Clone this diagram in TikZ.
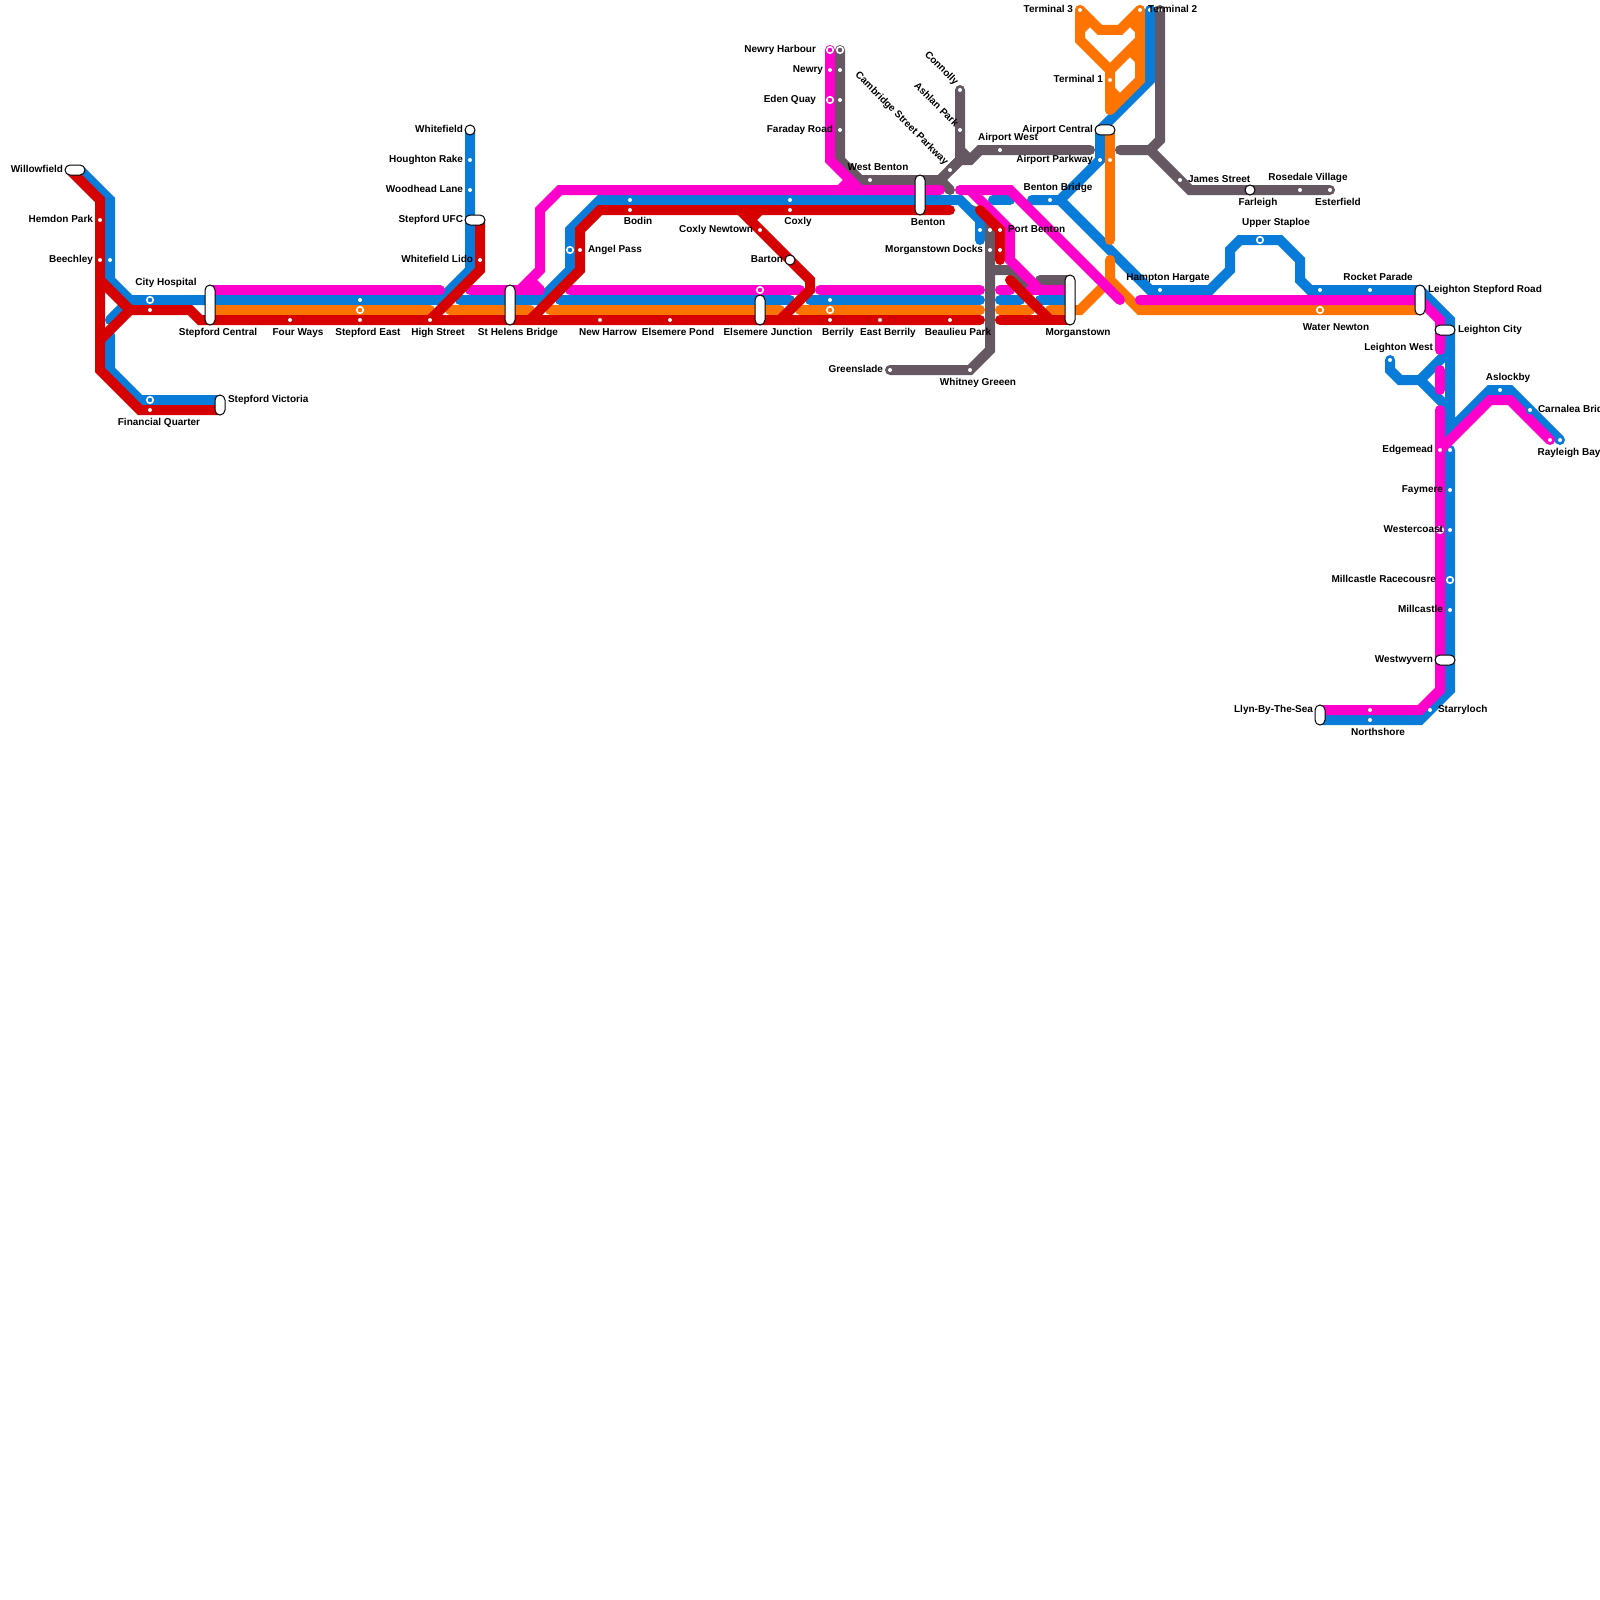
\documentclass[tikz,border=0pt]{standalone}
\usepackage{fontspec}
\setmainfont{Liberation Sans}
\definecolor{tbl}{HTML}{087CD8}
\definecolor{tmg}{HTML}{FF00CC}
\definecolor{tor}{HTML}{FF7300}
\definecolor{trd}{HTML}{D60000}
\definecolor{tgy}{HTML}{655862}
\tikzset{
  lineb/.style={line width=10pt,line cap=round,miter limit=10},
  bl/.style={lineb,draw=tbl}, mg/.style={lineb,draw=tmg}, orl/.style={lineb,draw=tor},
  rd/.style={lineb,draw=trd}, gy/.style={lineb,draw=tgy},
  dotst/.style={circle,fill=white,inner sep=0pt,minimum size=4pt},
  ringst/.style={circle,draw=white,line width=1.6pt,inner sep=0pt,minimum size=6.5pt},
  bigst/.style={circle,draw=black,fill=white,line width=1pt,inner sep=0pt,minimum size=10pt},
  halost/.style={circle,fill=tbl,inner sep=0pt,minimum size=9pt},
  pillv/.style={rectangle,rounded corners=5pt,draw=black,fill=white,line width=1pt,inner sep=0pt,outer sep=0pt,minimum width=10pt,minimum height=#1},
  pillh/.style={rectangle,rounded corners=5pt,draw=black,fill=white,line width=1pt,inner sep=0pt,outer sep=0pt,minimum height=10pt,minimum width=#1},
  lbl/.style={inner sep=0pt,outer sep=0pt,xshift=1pt,text=black,text height=7pt,text depth=0pt,font=\fontsize{10}{12}\selectfont\bfseries},
}
\begin{document}
\begin{tikzpicture}[x=1pt,y=-1pt]
\useasboundingbox (0,0) rectangle (1600,1600);
\fill[white] (0,0) rectangle (1600,1600);
% grey
\draw[gy] (840,50) -- (840,160) -- (860,180) -- (940,180) -- (960,160) -- (960,90);
\draw[gy] (940,180) -- (950,190);
\draw[gy] (960,150) -- (970,160);
\draw[gy] (950,170) -- (960,160) -- (970,160) -- (980,150) -- (1090,150);
\draw[gy] (972,210) -- (990,228) -- (990,350) -- (970,370) -- (890,370);
\draw[gy] (990,270) -- (1010,270) -- (1030,290);
\draw[gy] (1040,280) -- (1070,280);
\draw[gy] (1120,150) -- (1150,150) -- (1160,140) -- (1160,10);
\draw[gy] (1150,150) -- (1190,190) -- (1330,190);
% blue
\draw[bl] (80,170) -- (110,200) -- (110,280) -- (130,300) -- (440,300) -- (470,270) -- (470,130);
\draw[bl] (130,300) -- (110,320);
\draw[bl] (110,335) -- (110,370) -- (140,400) -- (220,400);
\draw[bl] (460,300) -- (540,300) -- (570,270) -- (570,230) -- (600,200) -- (960,200) -- (980,220) -- (980,240);
\draw[bl] (560,300) -- (790,300);
\draw[bl] (810,300) -- (980,300);
\draw[bl] (1000,300) -- (1020,300);
\draw[bl] (1040,300) -- (1070,300);
\draw[bl] (993,200) -- (1010,200);
\draw[bl] (1032,200) -- (1060,200) -- (1100,160) -- (1100,130) -- (1150,80) -- (1150,10);
\draw[bl] (1060,200) -- (1150,290) -- (1210,290) -- (1230,270) -- (1230,250) -- (1240,240) -- (1280,240) -- (1300,260) -- (1300,280) -- (1310,290) -- (1420,290) -- (1450,320) -- (1450,430) -- (1490,390) -- (1510,390) -- (1560,440);
\draw[bl] (1390,360) -- (1390,370) -- (1400,380) -- (1420,380) -- (1450,350);
\draw[bl] (1420,380) -- (1450,410);
\draw[bl] (1450,450) -- (1450,690) -- (1420,720) -- (1320,720);
% orange
\draw[orl] (210,310) -- (430,310);
\draw[orl] (450,310) -- (530,310);
\draw[orl] (550,310) -- (780,310);
\draw[orl] (800,310) -- (980,310);
\draw[orl] (1000,310) -- (1030,310);
\draw[orl] (1050,310) -- (1080,310) -- (1110,280);
\draw[orl] (1110,130) -- (1110,240);
\draw[orl] (1110,260) -- (1110,280) -- (1140,310) -- (1420,310);
\draw[orl] (1080,10) -- (1100,30) -- (1120,30) -- (1140,10);
\draw[orl] (1140,10) -- (1140,80) -- (1110,110);
\draw[orl] (1110,110) -- (1110,70) -- (1080,40) -- (1080,10);
\draw[orl] (1110,70) -- (1140,40);
\draw[orl] (1080,30) -- (1090,20);
\draw[orl] (1130,20) -- (1140,30);
\draw[orl] (1130,50) -- (1140,60);
\draw[orl] (1110,90) -- (1120,100);
% magenta
\draw[mg] (210,290) -- (440,290);
\draw[mg] (470,290) -- (540,290);
\draw[mg] (530,280) -- (540,290);
\draw[mg] (520,290) -- (540,270) -- (540,210) -- (560,190) -- (940,190);
\draw[mg] (830,50) -- (830,160) -- (860,190);
\draw[mg] (840,190) -- (850,180);
\draw[mg] (570,290) -- (800,290);
\draw[mg] (820,290) -- (980,290);
\draw[mg] (1000,290) -- (1010,290);
\draw[mg] (960,190) -- (1010,190) -- (1120,300);
\draw[mg] (970,190) -- (1010,230) -- (1010,260) -- (1040,290);
\draw[mg] (1030,290) -- (1070,290);
\draw[mg] (1140,300) -- (1420,300) -- (1440,320) -- (1440,350);
\draw[mg] (1440,370) -- (1440,390);
\draw[mg] (1440,410) -- (1440,690) -- (1420,710) -- (1320,710);
\draw[mg] (1440,450) -- (1490,400) -- (1510,400) -- (1550,440);
% red
\draw[rd] (70,170) -- (100,200) -- (100,370) -- (140,410) -- (220,410);
\draw[rd] (100,280) -- (130,310) -- (190,310) -- (200,320) -- (980,320);
\draw[rd] (100,340) -- (130,310);
\draw[rd] (480,220) -- (480,270) -- (430,320);
\draw[rd] (530,320) -- (580,270) -- (580,230) -- (600,210) -- (950,210);
\draw[rd] (740,210) -- (810,280) -- (810,290) -- (780,320);
\draw[rd] (750,220) -- (760,210);
\draw[rd] (980,210) -- (1000,230) -- (1000,260);
\draw[rd] (1010,280) -- (1050,320);
\draw[rd] (1000,320) -- (1070,320);
% interchange pills
\node[pillh=20pt] (pWillow) at (75,170) {};
\node[pillv=40pt] (pCentral) at (210,305) {};
\node[pillv=20pt] (pVictoria) at (220,405) {};
\node[pillh=20pt] (pUFC) at (475,220) {};
\node[pillv=40pt] (pHelens) at (510,305) {};
\node[pillv=30pt] (pElsemere) at (760,310) {};
\node[pillv=40pt] (pBenton) at (920,195) {};
\node[pillv=50pt] (pMorgan) at (1070,300) {};
\node[pillh=20pt] (pAirport) at (1105,130) {};
\node[pillv=30pt] (pLStepford) at (1420,300) {};
\node[pillh=20pt] (pLCity) at (1445,330) {};
\node[pillh=20pt] (pWestwy) at (1445,660) {};
\node[pillv=20pt] (pLlyn) at (1320,715) {};
% big stations
\node[bigst] (sWhitefield) at (470,130) {};
\node[bigst] (sBarton) at (790,260) {};
\node[bigst] (sFarleigh) at (1250,190) {};
% ring stations
\foreach \x/\y in {150/300,150/400,360/310,570/250,760/290,830/310,830/50,840/50,830/100,1260/240,1320/310,1440/530,1450/580}
  \node[ringst] (r\x-\y) at (\x,\y) {};
\node[halost] (hCarnalea) at (1530,410) {};
% plain stations
\foreach \x/\y in {100/220,100/260,110/260,150/310,150/410,290/320,360/300,360/320,430/320,470/160,470/190,480/260,580/250,630/200,630/210,600/320,670/320,760/230,790/200,790/210,830/300,830/320,880/320,950/320,830/70,840/70,840/100,840/130,870/180,950/170,960/90,960/130,1000/150,970/370,890/370,980/230,990/230,1000/230,990/250,1000/250,1050/200,1080/10,1140/10,1150/10,1160/10,1110/80,1100/160,1110/160,1180/180,1300/190,1330/190,1160/290,1320/290,1370/290,1390/360,1500/390,1530/410,1550/440,1560/440,1440/450,1450/450,1450/490,1450/530,1450/610,1430/710,1370/710,1370/720}
  \node[dotst] (d\x-\y) at (\x,\y) {};
% labels
\node[lbl,anchor=east] (lWillow) at (62,169) {Willowfield};
\node[lbl,anchor=east] (lHemdon) at (92,219) {Hemdon Park};
\node[lbl,anchor=east] (lBeech) at (92,259) {Beechley};
\node[lbl] (lCity) at (165,282) {City Hospital};
\node[lbl] (lCentral) at (217,332) {Stepford Central};
\node[lbl] (lFour) at (297,332) {Four Ways};
\node[lbl] (lSEast) at (367,332) {Stepford East};
\node[lbl] (lHigh) at (437,332) {High Street};
\node[lbl] (lHelens) at (517,332) {St Helens Bridge};
\node[lbl] (lHarrow) at (607,332) {New Harrow};
\node[lbl] (lPond) at (677,332) {Elsemere Pond};
\node[lbl] (lJunct) at (767,332) {Elsemere Junction};
\node[lbl] (lBerrily) at (837,332) {Berrily};
\node[lbl] (lEBerrily) at (887,332) {East Berrily};
\node[lbl] (lBeaulieu) at (957,332) {Beaulieu Park};
\node[lbl] (lMorgan) at (1077,332) {Morganstown};
\node[lbl] (lWhitney) at (977,382) {Whitney Greeen};
\node[lbl,anchor=east] (lGreen) at (882,369) {Greenslade};
\node[lbl,anchor=west] (lVict) at (227,399) {Stepford Victoria};
\node[lbl] (lFin) at (158,422) {Financial Quarter};
\node[lbl,anchor=east] (lWhite) at (462,129) {Whitefield};
\node[lbl,anchor=east] (lHough) at (462,159) {Houghton Rake};
\node[lbl,anchor=east] (lWood) at (462,189) {Woodhead Lane};
\node[lbl,anchor=east] (lUFC) at (462,219) {Stepford UFC};
\node[lbl,anchor=east] (lLido) at (472,259) {Whitefield Lido};
\node[lbl,anchor=west] (lAngel) at (587,249) {Angel Pass};
\node[lbl] (lBodin) at (637,221) {Bodin};
\node[lbl] (lCoxly) at (797,221) {Coxly};
\node[lbl,anchor=east] (lCoxN) at (752,229) {Coxly Newtown};
\node[lbl,anchor=east] (lBarton) at (782,259) {Barton};
\node[lbl,anchor=east] (lNHarb) at (815,49) {Newry Harbour};
\node[lbl,anchor=east] (lNewry) at (822,69) {Newry};
\node[lbl,anchor=east] (lEden) at (815,99) {Eden Quay};
\node[lbl,anchor=east] (lFar) at (832,129) {Faraday Road};
\node[lbl] (lWBent) at (877,167) {West Benton};
\node[lbl] (lBenton) at (927,222) {Benton};
\node[lbl,anchor=east,rotate=-45] (lCamb) at (946,163) {Cambridge Street Parkway};
\node[lbl,anchor=east,rotate=-45] (lAshlan) at (956,125) {Ashlan Park};
\node[lbl,anchor=east,rotate=-45] (lConn) at (956,83) {Connolly};
\node[lbl] (lAWest) at (1007,137) {Airport West};
\node[lbl,anchor=east] (lACent) at (1092,129) {Airport Central};
\node[lbl,anchor=east] (lAPark) at (1092,159) {Airport Parkway};
\node[lbl] (lBBridge) at (1057,187) {Benton Bridge};
\node[lbl,anchor=west] (lPort) at (1007,229) {Port Benton};
\node[lbl,anchor=east] (lDocks) at (982,249) {Morganstown Docks};
\node[lbl,anchor=east] (lT3) at (1072,9) {Terminal 3};
\node[lbl,anchor=west] (lT2) at (1147,9) {Terminal 2};
\node[lbl,anchor=east] (lT1) at (1102,79) {Terminal 1};
\node[lbl,anchor=west] (lJames) at (1187,179) {James Street};
\node[lbl] (lFarl) at (1257,202) {Farleigh};
\node[lbl] (lRose) at (1307,177) {Rosedale Village};
\node[lbl] (lEst) at (1337,202) {Esterfield};
\node[lbl] (lUpper) at (1275,222) {Upper Staploe};
\node[lbl] (lHamp) at (1167,277) {Hampton Hargate};
\node[lbl] (lRocket) at (1377,277) {Rocket Parade};
\node[lbl] (lWater) at (1335,327) {Water Newton};
\node[lbl,anchor=west] (lLSR) at (1427,289) {Leighton Stepford Road};
\node[lbl,anchor=west] (lLC) at (1457,329) {Leighton City};
\node[lbl,anchor=east] (lLW) at (1432,347) {Leighton West};
\node[lbl] (lAslock) at (1507,377) {Aslockby};
\node[lbl,anchor=west] (lCarn) at (1537,409) {Carnalea Bridge};
\node[lbl] (lRay) at (1568,452) {Rayleigh Bay};
\node[lbl,anchor=east] (lEdge) at (1432,449) {Edgemead};
\node[lbl,anchor=east] (lFay) at (1442,489) {Faymere};
\node[lbl,anchor=east] (lWest) at (1442,529) {Westercoast};
\node[lbl,anchor=east] (lRace) at (1435,579) {Millcastle Racecousre};
\node[lbl,anchor=east] (lMill) at (1442,609) {Millcastle};
\node[lbl,anchor=east] (lWyv) at (1432,659) {Westwyvern};
\node[lbl,anchor=east] (lLlyn) at (1312,709) {Llyn-By-The-Sea};
\node[lbl] (lNorth) at (1377,732) {Northshore};
\node[lbl,anchor=west] (lStarr) at (1437,709) {Starryloch};
\end{tikzpicture}
\end{document}
